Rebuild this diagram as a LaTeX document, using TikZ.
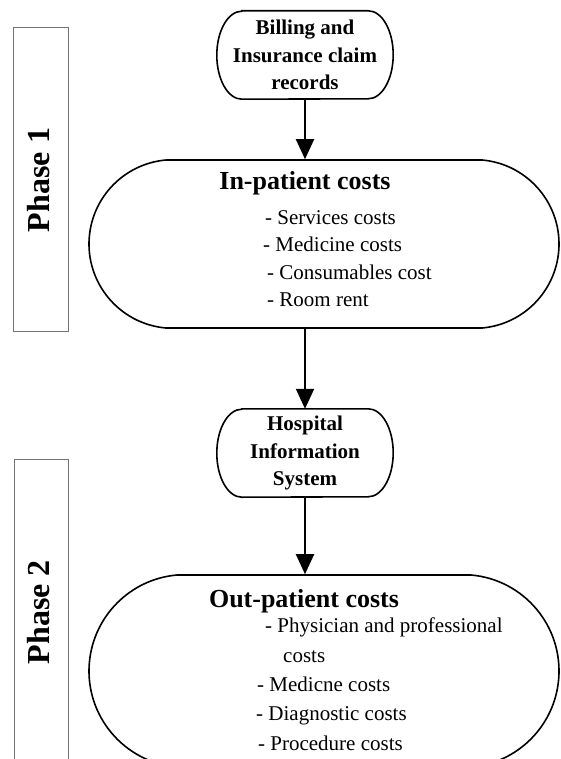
\documentclass[tikz,border=0pt]{standalone}
\usepackage{fontspec}
\setmainfont{Liberation Serif}
\usetikzlibrary{arrows.meta,shapes.misc}
\def\ovalframe(#1)(#2:#3){\draw[line width=1.6pt] ([xshift=#2]#1.north west) -- ([xshift=-#2]#1.north east) arc[start angle=90, end angle=-90, x radius=#2, y radius=#3] -- ([xshift=#2]#1.south west) arc[start angle=270, end angle=90, x radius=#2, y radius=#3] -- cycle;}
\tikzset{
	srcbox/.style={rectangle, minimum width=176pt, minimum height=88pt, inner sep=0pt, align=center,
		font=\bfseries\fontsize{21}{27.5}\selectfont},
	costbox/.style={rounded rectangle, rounded rectangle arc length=170, draw, line width=1.6pt,
		minimum width=470pt, inner sep=0pt},
	flow/.style={line width=2pt, -{Triangle[length=20pt,width=18pt]}},
	phasebox/.style={draw=black!55, line width=0.9pt},
	phaselbl/.style={rotate=90, inner sep=0pt, font=\bfseries\fontsize{32}{36}\selectfont},
	costhead/.style={anchor=base, inner sep=0pt, font=\bfseries\fontsize{26}{30}\selectfont},
	costlist/.style={anchor=north west, inner sep=0pt, align=left, font=\fontsize{21}{27.5}\selectfont}
}

\begin{document}
\begin{tikzpicture}[x=1pt, y=-1pt]
			%%%%% START %%%%%
			
			\clip (0, 0) rectangle (560, 759);
			
			\draw[phasebox] (13, 27) rectangle (68, 331);
			\node[phaselbl] (ph1) at (39, 180) {Phase 1};
			
			\draw[phasebox] (14, 459) rectangle (68, 790);
			\node[phaselbl] (ph2) at (39, 612) {Phase 2};
			
			\node[srcbox] (billing) at (305, 55) {Billing and\\Insurance claim\\records};
			\ovalframe(billing)(25pt:44pt)
			
			\node[costbox, minimum height=168pt] (inpat) at (324, 244) {};
			\node[costhead] (inhead) at (305, 190) {In-patient costs};
			\node[costlist] (inlist) at (263, 210) {\hspace*{2pt}- Services costs\\- Medicine costs\\\hspace*{4pt}- Consumables cost\\\hspace*{4pt}- Room rent};
			
			\node[srcbox] (his) at (305, 453) {Hospital\\Information\\System};
			\ovalframe(his)(25pt:44pt)
			
			\node[costbox, minimum height=192pt] (outpat) at (324, 671) {};
			\node[costhead] (outhead) at (304, 607) {Out-patient costs};
			\node[costlist, font=\fontsize{21}{29.3}\selectfont] (outlist) at (256, 618) {\hspace*{9pt}- Physician and professional\\\hspace*{27pt}costs\\\hspace*{1pt}- Medicne costs\\- Diagnostic costs\\\hspace*{2pt}- Procedure costs};
			
			\draw[flow] (billing.south) -- (billing.south |- inpat.north);
			\draw[flow] (his.north |- inpat.south) -- (his.north);
			\draw[flow] (his.south) -- (his.south |- outpat.north);
			
			%%%%% END %%%%%
\end{tikzpicture}
\end{document}
